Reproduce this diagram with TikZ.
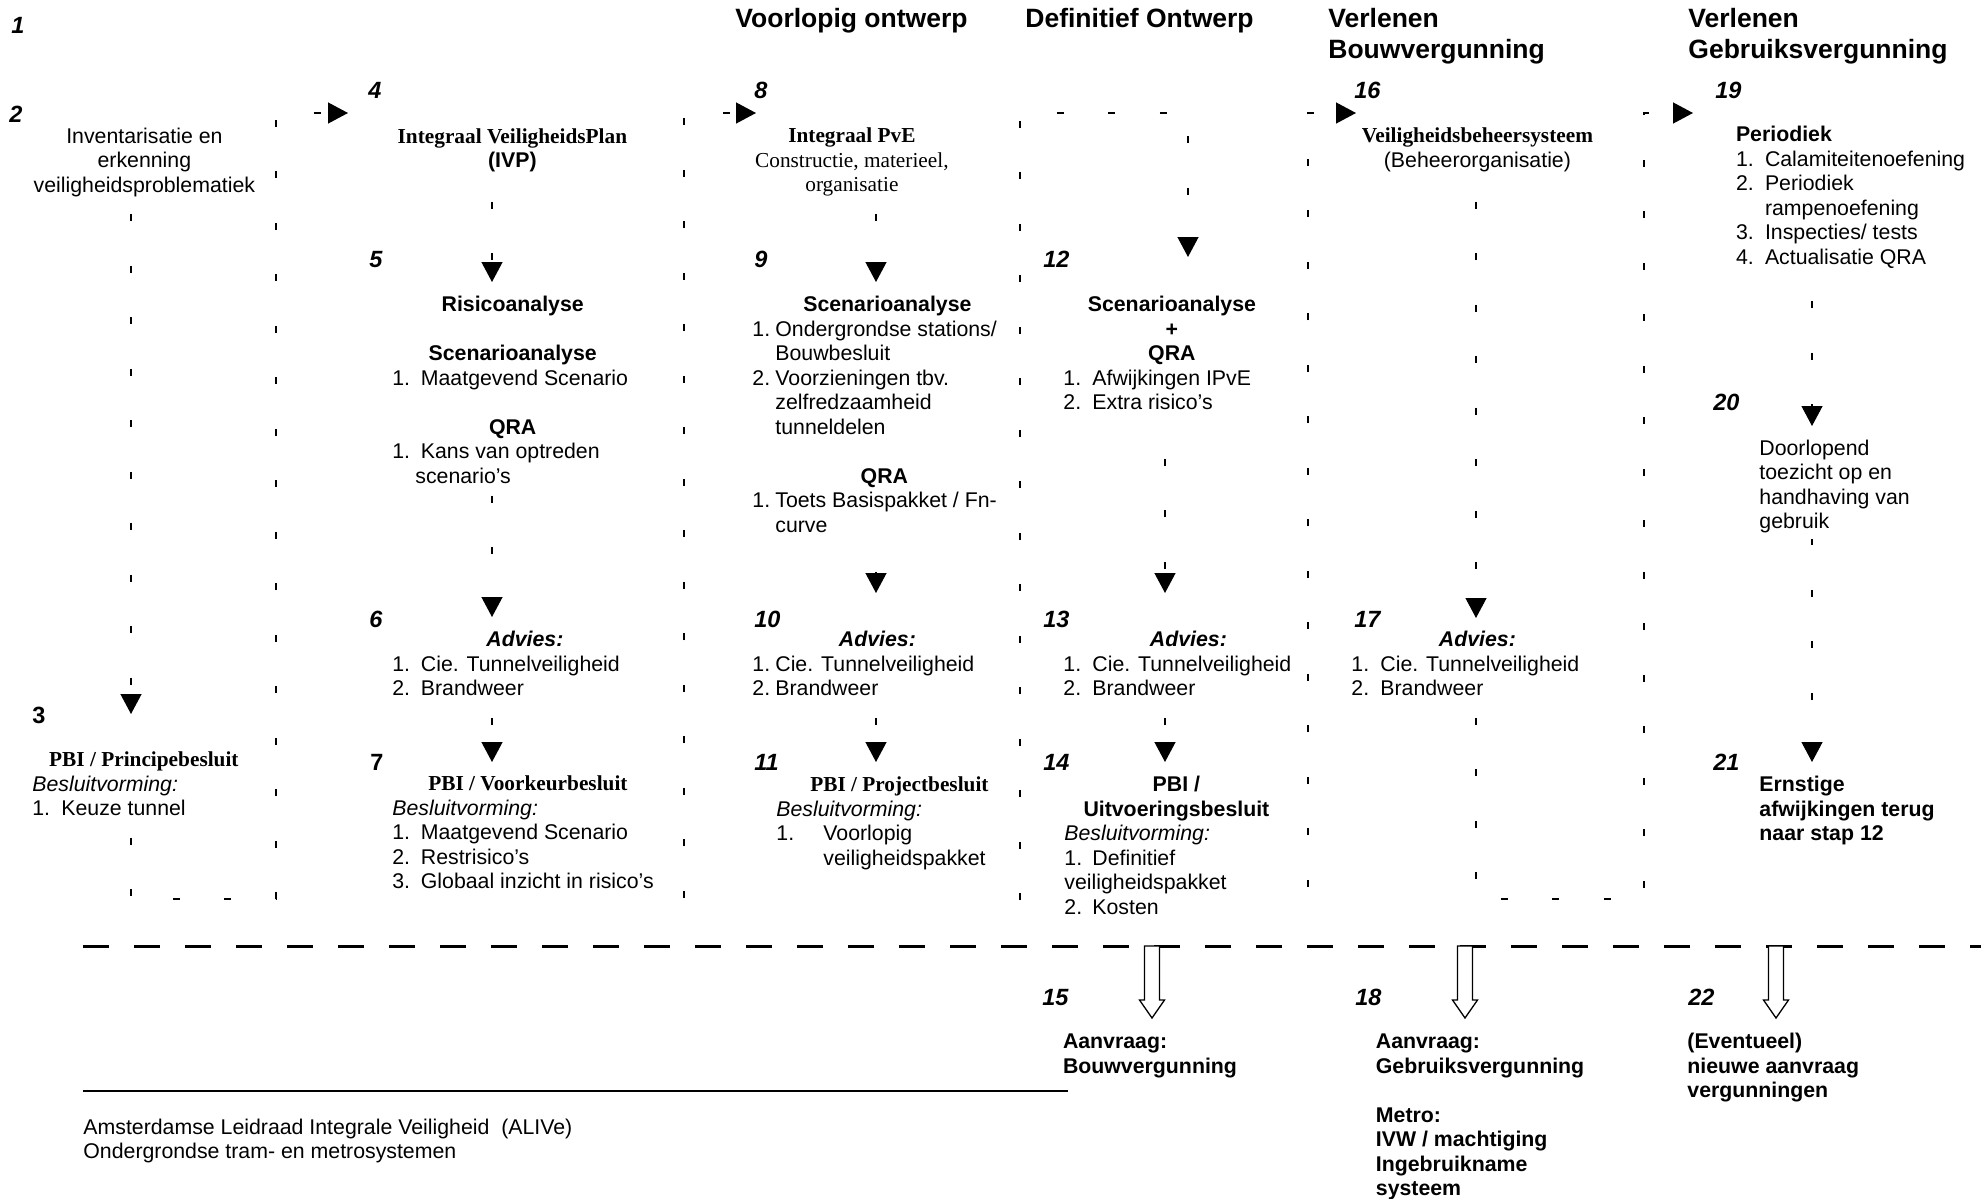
\documentclass[tikz,border=0pt]{standalone}
\usepackage{fontspec}
\setmainfont{Liberation Sans}
\newfontfamily\tnr{Liberation Serif}
\usetikzlibrary{arrows.meta}
\pgfdeclarelayer{background}
\pgfsetlayers{background,main}
\setlength{\parindent}{0pt}
\newcommand\myC[1]{\hbox to\hsize{\hss\strut#1\hss}}
\newcommand\myL[1]{\hbox to\hsize{\strut#1\hss}}
\newcommand\myI[3]{\hbox to\hsize{\strut\hbox to#1{#2\hss}#3\hss}}
\newcommand\myBox[2]{\vtop{\hsize=\dimexpr#1pt/2\relax#2}}
\tikzset{
 txt/.style={font=\fontsize{10.65}{12.25}\selectfont, inner xsep=0pt, inner ysep=1.5pt, fill=white, anchor=base west},
 num/.style={font=\fontsize{11.75}{14}\selectfont\bfseries\itshape, inner sep=0pt, anchor=base west},
 numup/.style={num, font=\fontsize{11.75}{14}\selectfont\bfseries},
 hdr/.style={font=\fontsize{13.25}{15.75}\selectfont\bfseries, inner sep=0pt, anchor=base west},
 flow/.style={line width=0.65pt, dash pattern=on 3.5pt off 22.25pt, -{Triangle[length=10pt,width=10.5pt]}},
 bigdash/.style={line width=1.5pt, dash pattern=on 13pt off 12.5pt},
 hollow/.style={draw, fill=white, line width=0.65pt},
}
\begin{document}
\begin{tikzpicture}[x=0.5pt,y=-0.5pt]
\useasboundingbox (0,0) rectangle (1981,1199);
% coordinates
\coordinate (in3) at (131,714);
\coordinate (in4) at (348,113);
\coordinate (in5) at (492,282);
\coordinate (in6) at (492,617);
\coordinate (in7) at (492,762);
\coordinate (in8) at (756,113);
\coordinate (in9) at (876,282);
\coordinate (in10) at (876,593);
\coordinate (in11) at (876,762);
\coordinate (in12) at (1188,257);
\coordinate (in13) at (1165,593);
\coordinate (in14) at (1165,762);
\coordinate (in16) at (1356,113);
\coordinate (in17) at (1476,618);
\coordinate (in19) at (1693,113);
\coordinate (in20) at (1812,426);
\coordinate (in21) at (1812,762);
\coordinate (b1) at (276,899); \coordinate (u1) at (276,113);
\coordinate (b2) at (684,899); \coordinate (u2) at (684,113);
\coordinate (b3) at (1020,899); \coordinate (u3) at (1020,113);
\coordinate (b4) at (1308,899); \coordinate (u4) at (1308,113);
\coordinate (b5) at (1644,899); \coordinate (u5) at (1644,113);

% headers
\node[hdr] (h3) at (735,27) {Voorlopig ontwerp};
\node[hdr] (h4) at (1025,27) {Definitief Ontwerp};
\node[hdr] (h5) at (1328,27) {\vtop{\hbox{Verlenen}\hbox{Bouwvergunning}}};
\node[hdr] (h6) at (1688,27) {\vtop{\hbox{Verlenen}\hbox{Gebruiksvergunning}}};

% text blocks
\node[txt] (t2) at (24,143.3) {\myBox{240}{\myC{Inventarisatie en}\myC{erkenning}\myC{veiligheidsproblematiek}}};
\node[txt] (t3) at (32,766.7) {\myBox{223}{\myC{\tnr\bfseries PBI / Principebesluit}\myL{\itshape Besluitvorming:}\myI{14.5pt}{1.}{Keuze tunnel}}};
\node[txt] (t4) at (392,143) {\myBox{240}{\myC{\tnr\bfseries Integraal VeiligheidsPlan}\myC{\bfseries (IVP)}}};
\node[txt] (t5) at (392,311.7) {\myBox{240.6}{\myC{\bfseries Risicoanalyse}\myL{}\myC{\bfseries Scenarioanalyse}\myI{14.25pt}{1.}{Maatgevend Scenario}\myL{}\myC{\bfseries QRA}\myI{14.25pt}{1.}{Kans van optreden}\myL{\hspace{11.5pt}scenario’s}}};
\node[txt] (t6) at (392,646.7) {\myBox{265}{\myC{\bfseries\itshape Advies:}\myI{14.25pt}{1.}{Cie. Tunnelveiligheid}\myI{14.25pt}{2.}{Brandweer}}};
\node[txt, inner ysep=3pt] (t7) at (392,790.5) {\myBox{271}{\myC{\tnr\bfseries PBI / Voorkeurbesluit}\myL{\itshape Besluitvorming:}\myI{14.25pt}{1.}{Maatgevend Scenario}\myI{14.25pt}{2.}{Restrisico’s}\myI{14.25pt}{3.}{Globaal inzicht in risico’s}}};
\node[txt] (t8) at (741.5,142.7) {\myBox{220}{\myC{\tnr\bfseries Integraal PvE}\myC{\tnr Constructie, materieel,}\myC{\tnr organisatie}}};
\node[txt] (t9) at (752,311.7) {\myBox{250}{\myC{\hspace{10pt}\bfseries Scenarioanalyse}\myI{11.5pt}{1.}{Ondergrondse stations/}\myL{\hspace{11.5pt}Bouwbesluit}\myI{11.5pt}{2.}{Voorzieningen tbv.}\myL{\hspace{11.5pt}zelfredzaamheid}\myL{\hspace{11.5pt}tunneldelen}\myL{}\myC{\hspace{7pt}\bfseries QRA}\myI{11.5pt}{1.}{Toets Basispakket / Fn-}\myL{\hspace{11.5pt}curve}}};
\node[txt] (t10) at (752,646.7) {\myBox{250}{\myC{\bfseries\itshape Advies:}\myI{11.5pt}{1.}{Cie. Tunnelveiligheid}\myI{11.5pt}{2.}{Brandweer}}};
\node[txt, inner ysep=3pt] (t11) at (776,791.7) {\myBox{220}{\myC{\hspace{13pt}\tnr\bfseries PBI / Projectbesluit}\myL{\itshape Besluitvorming:}\myI{23.5pt}{1.}{Voorlopig}\myL{\hspace{23.5pt}veiligheidspakket}\myL{}}};
\node[txt] (t12) at (1063,311.7) {\myBox{217}{\myC{\bfseries Scenarioanalyse}\myC{\bfseries +}\myC{\bfseries QRA}\myI{14.5pt}{1.}{Afwijkingen IPvE}\myI{14.5pt}{2.}{Extra risico’s}}};
\node[txt] (t13) at (1063,646.7) {\myBox{240}{\myC{\hspace{5pt}\bfseries\itshape Advies:}\myI{14.5pt}{1.}{Cie. Tunnelveiligheid}\myI{14.5pt}{2.}{Brandweer}}};
\node[txt] (t14) at (1064,791.7) {\myBox{224}{\myC{\bfseries PBI /}\myC{\bfseries Uitvoeringsbesluit}\myL{\itshape Besluitvorming:}\myI{14pt}{1.}{Definitief}\myL{veiligheidspakket}\myI{14pt}{2.}{Kosten}}};
\node[txt] (t16) at (1347,142.7) {\myBox{260}{\myC{\tnr\bfseries Veiligheidsbeheersysteem}\myC{(Beheerorganisatie)}}};
\node[txt] (t17) at (1351,646.7) {\myBox{252}{\myC{\bfseries\itshape Advies:}\myI{14.5pt}{1.}{Cie. Tunnelveiligheid}\myI{14.5pt}{2.}{Brandweer}}};
\node[txt] (t19) at (1735.6,141.7) {\myBox{244}{\myL{\bfseries Periodiek}\myI{14.5pt}{1.}{Calamiteitenoefening}\myI{14.5pt}{2.}{Periodiek}\myL{\hspace{14.5pt}rampenoefening}\myI{14.5pt}{3.}{Inspecties/ tests}\myI{14.5pt}{4.}{Actualisatie QRA}}};
\node[txt] (t20) at (1759,455) {\myBox{160}{\myL{Doorlopend}\myL{toezicht op en}\myL{handhaving van}\myL{gebruik}}};
\node[txt] (t21) at (1759,791.7) {\myBox{190}{\bfseries\myL{Ernstige}\myL{afwijkingen terug}\myL{naar stap 12}}};
\node[txt] (t15) at (1062.6,1048.5) {\myBox{200}{\bfseries\myL{Aanvraag:}\myL{Bouwvergunning}}};
\node[txt] (t18) at (1375.5,1048.5) {\myBox{220}{\bfseries\myL{Aanvraag:}\myL{Gebruiksvergunning}\myL{}\myL{Metro:}\myL{IVW / machtiging}\myL{Ingebruikname}\myL{systeem}}};
\node[txt] (t22) at (1687,1048.5) {\myBox{200}{\bfseries\myL{(Eventueel)}\myL{nieuwe aanvraag}\myL{vergunningen}}};
\node[txt] (foot) at (83,1134) {\myBox{700}{\myL{Amsterdamse Leidraad Integrale Veiligheid\ \ (ALIVe)}\myL{Ondergrondse tram- en metrosystemen}}};

% step numbers
\node[num] (n1) at (11,33) {1};
\node[num] (n2) at (9,122) {2};
\node[numup] (n3) at (32,723) {3};
\node[num] (n4) at (368,98) {4};
\node[num] (n5) at (369,267) {5};
\node[num] (n6) at (369,627) {6};
\node[numup] (n7) at (370,770) {7};
\node[num] (n8) at (754,98) {8};
\node[num] (n9) at (754,267) {9};
\node[num] (n10) at (754,627) {10};
\node[num] (n11) at (754,770) {11};
\node[num] (n12) at (1043,267) {12};
\node[num] (n13) at (1043,627) {13};
\node[num] (n14) at (1043,770) {14};
\node[num] (n15) at (1042,1005) {15};
\node[num] (n16) at (1354,98) {16};
\node[num] (n17) at (1354,627) {17};
\node[num] (n18) at (1355,1005) {18};
\node[num] (n19) at (1715,98) {19};
\node[num] (n20) at (1713,410) {20};
\node[num] (n21) at (1713,770) {21};
\node[num] (n22) at (1688,1005) {22};

% bottom separator, footer rule and hollow arrows
\draw[bigdash] (83,946) -- (1981,946);
\draw[line width=0.75pt] (83,1091) -- (1068,1091);
\coordinate (p15) at (1152,946);
\coordinate (p18) at (1465,946);
\coordinate (p22) at (1776,946);
\foreach \p in {p15,p18,p22}
  \draw[hollow] (\p) ++(-7.5,0) -- ++(0,54) -- ++(-5,0) -- ++(12.5,18) -- ++(12.5,-18) -- ++(-5,0) -- ++(0,-54) -- cycle;

% connectors
\begin{pgfonlayer}{background}
\draw[flow] (t2 -| in3) -- (in3);
\draw[flow] (t3 -| in3) |- (b1) -- (u1) -- (in4);
\draw[flow] (t4 -| in5) -- (in5);
\draw[flow] (t5 -| in6) -- (in6);
\draw[flow] (t6 -| in7) -- (in7);
\draw[flow] (t7 -| in7) |- (b2) -- (u2) -- (in8);
\draw[flow] (t8 -| in9) -- (in9);
\draw[flow] (t9 -| in10) -- (in10);
\draw[flow] (t10 -| in11) -- (in11);
\draw[flow] (t11 -| in11) |- (b3) -- (u3) -| (in12);
\draw[flow] (t12 -| in13) -- (in13);
\draw[flow] (t13 -| in14) -- (in14);
\draw[flow] (t14 -| in14) |- (b4) -- (u4) -- (in16);
\draw[flow] (t16 -| in17) -- (in17);
\draw[flow] (t17 -| in17) |- (b5) -- (u5) -- (in19);
\draw[flow] (t19 -| in20) -- (in20);
\draw[flow] (t20 -| in21) -- (in21);
\end{pgfonlayer}
\end{tikzpicture}
\end{document}
